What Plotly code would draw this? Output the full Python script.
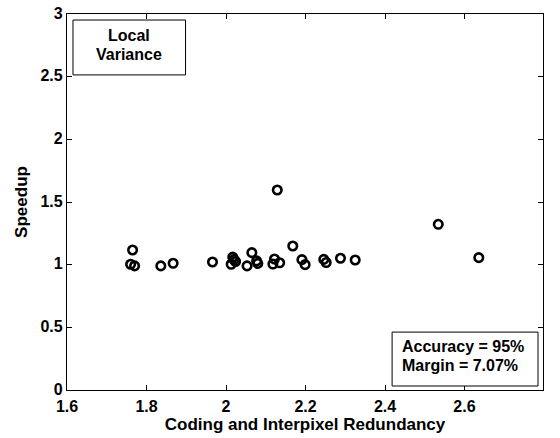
import plotly.graph_objects as go

# Coding/interpixel redundancy vs. speedup for the local-variance method
redundancy = [1.765, 1.760, 1.770, 1.836, 1.867, 1.966, 2.013, 2.020, 2.024, 2.017,
              2.053, 2.065, 2.077, 2.080, 2.129, 2.168, 2.122, 2.118, 2.135, 2.191,
              2.199, 2.246, 2.252, 2.288, 2.325, 2.534, 2.636]
speedup = [1.117, 1.003, 0.990, 0.990, 1.011, 1.021, 1.003, 1.040, 1.025, 1.060,
           0.990, 1.096, 1.030, 1.010, 1.596, 1.149, 1.045, 1.005, 1.015, 1.040,
           1.000, 1.042, 1.017, 1.051, 1.037, 1.322, 1.056]

x_ticks = [1.6, 1.8, 2.0, 2.2, 2.4, 2.6]
x_tick_labels = ["1.6", "1.8", "2", "2.2", "2.4", "2.6"]
y_ticks = [0, 0.5, 1, 1.5, 2, 2.5, 3]
y_tick_labels = ["0", "0.5", "1", "1.5", "2", "2.5", "3"]

FONT = "Liberation Sans, Arial, Helvetica, sans-serif"
TICK_FONT = dict(family=FONT, size=16, color="black")
TITLE_FONT = dict(family=FONT, size=17, color="black")
BOX_FONT = dict(family=FONT, size=16, color="black")


def bold(s):
    return f"<b>{s}</b>"


fig = go.Figure()
fig.add_trace(go.Scatter(
    x=redundancy, y=speedup, mode="markers",
    marker=dict(symbol="circle-open", size=8.5, color="black", line=dict(width=2.6, color="black")),
    showlegend=False,
))

axis_common = dict(
    showgrid=False, zeroline=False, showline=True, linecolor="black", linewidth=1.2,
    mirror="allticks", ticks="inside", ticklen=5, tickwidth=1, tickcolor="black",
    tickfont=TICK_FONT, automargin=False,
)

fig.update_layout(
    width=560, height=438,
    margin=dict(l=67, r=17, t=14, b=48),
    paper_bgcolor="white", plot_bgcolor="white",
    font=dict(family=FONT, color="black"),
    xaxis=dict(range=[1.6, 2.7975], tickvals=x_ticks, ticktext=[bold(t) for t in x_tick_labels],
               ticklabelstandoff=2,
               title=dict(text=bold("Coding and Interpixel Redundancy"), font=TITLE_FONT, standoff=2),
               **axis_common),
    yaxis=dict(range=[0, 3], tickvals=y_ticks, ticktext=[bold(t) for t in y_tick_labels],
               ticklabelshift=-1,
               title=dict(text=bold("Speedup"), font=TITLE_FONT, standoff=8),
               **axis_common),
)

# Method label box (top left)
fig.add_shape(type="rect", xref="paper", yref="paper", x0=0.0126, x1=0.249, y0=0.838, y1=0.984,
              line=dict(color="black", width=1), fillcolor="white")
for line_text, y in [("Local", 0.9415), ("Variance", 0.8936)]:
    fig.add_annotation(xref="paper", yref="paper", x=0.131, y=y, xanchor="center", yanchor="middle",
                       showarrow=False, text=bold(line_text), font=BOX_FONT)

# Accuracy box (bottom right)
fig.add_shape(type="rect", xref="paper", yref="paper", x0=0.683, x1=0.9895, y0=0.0106, y1=0.154,
              line=dict(color="black", width=1), fillcolor="white")
for line_text, y in [("Accuracy = 95%", 0.1152), ("Margin = 7.07%", 0.0646)]:
    fig.add_annotation(xref="paper", yref="paper", x=0.699, y=y, xanchor="left", yanchor="middle",
                       showarrow=False, text=bold(line_text), font=BOX_FONT)

fig.write_html("out.html")
